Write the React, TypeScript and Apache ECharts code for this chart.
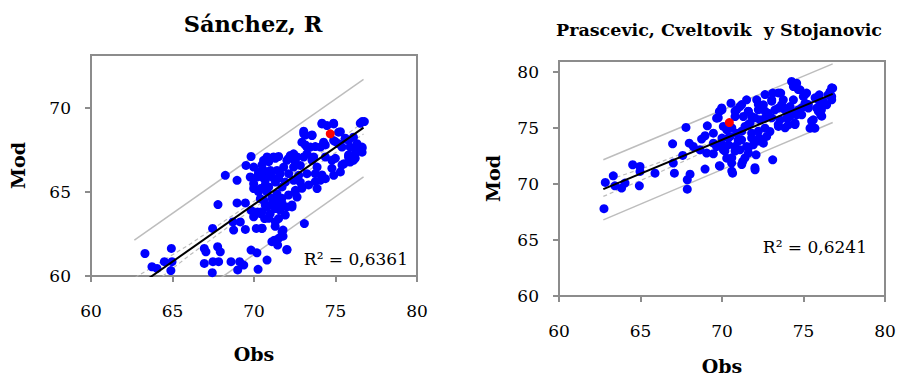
import React, { useEffect, useRef } from "react";
import * as echarts from "echarts";

// ---- Left chart: Sánchez, R ----
const leftObs = [
  63.31, 63.74, 64.05, 64.5, 64.93, 64.97, 64.9, 66.95, 67.05, 66.95, 67.44, 67.46, 67.77, 67.93, 67.48, 67.83,
  67.79, 68.24, 68.59, 68.75, 68.71, 68.96, 68.96, 69.0, 69.12, 69.16, 69.37, 69.47, 69.47, 69.51, 69.82, 69.82,
  69.82, 70.18, 70.25, 70.14, 70.22, 70.49, 70.8, 70.65, 71.25, 71.45, 71.3, 71.51, 71.78, 71.72, 72.02, 73.09,
  71.78, 69.77, 69.98, 70.28, 69.98, 70.59, 70.39, 70.69, 71.0, 71.2, 71.31, 70.9, 70.59, 70.39, 70.8, 71.1,
  71.41, 71.72, 72.02, 72.33, 71.61, 70.99, 71.41, 71.72, 71.92, 72.13, 72.02, 72.23, 72.64, 72.43, 72.74, 72.84,
  72.94, 72.54, 72.64, 72.84, 73.05, 73.25, 73.05, 73.05, 73.56, 73.46, 73.66, 73.87, 73.76, 73.87, 74.07, 74.38,
  74.27, 74.17, 74.48, 74.89, 75.19, 74.89, 75.19, 75.4, 74.78, 74.89, 74.38, 74.07, 75.3, 75.52, 75.8, 75.9,
  75.6, 76.1, 76.32, 76.2, 75.9, 76.63, 76.63, 76.52, 76.77, 76.1, 75.8, 70.8, 70.59, 70.18, 69.98, 70.49,
  71.41, 71.61, 71.82, 71.1, 70.8, 71.31, 70.39, 69.98, 71.51, 72.43, 72.94, 73.25, 73.56, 73.25, 72.43,
  73.15, 73.56, 74.17, 74.88, 75.3, 76.63, 73.15, 73.76, 74.37, 74.99, 75.6, 76.21, 76.63, 76.21, 75.8, 74.99,
  75.4, 74.78, 74.17, 73.76, 73.35, 72.94, 72.53, 72.12, 71.72, 71.31, 72.53, 72.12, 71.31, 70.9, 70.49, 70.28,
  70.9, 71.51, 70.69, 70.28, 71.1, 70.69, 72.33, 71.92, 70.49, 70.9, 70.49, 71.31, 71.72, 71.1, 72.02, 71.51,
];
const leftMod = [
  61.34, 60.55, 60.45, 60.85, 61.64, 60.85, 60.32, 61.64, 61.44, 60.75, 60.2, 62.83, 61.74, 61.44, 60.85, 60.85,
  64.25, 65.99, 60.85, 62.73, 63.22, 64.35, 65.69, 60.36, 60.85, 63.22, 60.65, 64.35, 62.77, 66.58, 67.11, 63.91,
  61.54, 61.38, 60.4, 62.83, 63.81, 62.83, 60.95, 63.42, 62.13, 61.84, 62.96, 63.42, 62.73, 62.43, 61.58, 63.12,
  62.37, 65.89, 65.49, 66.09, 66.48, 66.88, 65.2, 65.69, 66.28, 67.08, 65.59, 65.3, 64.5, 64.6, 64.1, 64.3,
  64.5, 64.31, 64.11, 64.11, 63.91, 63.71, 64.9, 65.3, 65.59, 66.09, 66.88, 67.17, 67.08, 66.48, 65.99, 65.59,
  65.3, 65.1, 64.7, 66.58, 67.08, 67.67, 68.46, 68.62, 68.36, 67.67, 67.08, 66.48, 66.09, 65.2, 67.67, 67.08,
  67.96, 69.05, 68.95, 69.05, 68.56, 68.06, 67.87, 67.67, 66.88, 65.99, 65.79, 65.69, 66.19, 66.68, 67.08, 67.67,
  68.16, 68.26, 67.87, 67.27, 66.78, 67.67, 67.37, 69.09, 69.19, 66.88, 68.06, 67.08, 66.28, 65.89, 65.2, 65.89,
  66.28, 66.09, 66.48, 65.89, 65.0, 64.01, 63.71, 63.52, 67.11, 67.27, 67.96, 67.27, 66.88, 66.09, 65.69,
  68.39, 68.39, 69.09, 69.09, 68.59, 69.19, 67.8, 67.7, 67.8, 67.99, 68.2, 67.6, 67.6, 67.0, 67.2, 67.0,
  66.61, 66.41, 66.01, 65.61, 65.42, 65.22, 65.02, 64.82, 64.62, 64.23, 66.8, 67.0, 67.0, 66.8, 66.61, 66.21,
  66.01, 65.82, 65.42, 65.02, 64.62, 64.23, 64.23, 63.63, 63.83, 63.43, 62.84, 63.23, 62.64, 62.04, 61.55, 62.24,
];
const leftHighlight = [[74.68, 68.46]];
const leftFit = [[62.7, 59.29], [76.72, 68.83]];
const leftUpperPred = [[62.66, 62.14], [76.72, 71.7]];
const leftLowerPred = [[62.66, 56.24], [76.72, 65.9]];
const leftUpperConf = [[62.7, 59.9], [66, 61.85], [70, 64.45], [73, 66.55], [76.72, 69.15]];
const leftLowerConf = [[62.7, 58.7], [66, 61.2], [70, 64.05], [73, 66.05], [76.72, 68.45]];

// ---- Right chart: Prascevic, Cveltovik y Stojanovic ----
const rightObs = [
  62.76, 62.84, 63.33, 63.43, 63.84, 64.05, 64.52, 64.97, 64.97, 64.93, 65.89, 66.97, 67.01, 67.08, 67.59, 67.79,
  67.87, 67.87, 67.99, 68.04, 68.24, 68.65, 68.75, 68.96, 69.06, 68.96, 69.1, 69.47, 69.47, 69.84, 69.84, 69.67,
  70.0, 70.08, 70.29, 70.39, 70.59, 70.65, 70.55, 70.8, 70.9, 71.0, 71.1, 71.27, 71.51, 71.62, 71.72, 71.82,
  71.92, 72.09, 72.03, 72.13, 72.23, 72.33, 72.29, 72.64, 72.84, 73.05, 73.11, 73.11, 73.25, 73.46, 73.56, 73.6,
  73.76, 73.86, 73.97, 74.07, 74.27, 74.38, 74.58, 74.38, 74.48, 74.68, 74.79, 74.89, 74.99, 75.09, 75.19, 75.3,
  75.4, 75.6, 75.7, 75.81, 75.97, 76.05, 76.22, 76.42, 76.63, 76.73, 76.79, 76.73, 75.9, 76.1, 70.29, 70.49,
  70.8, 71.2, 71.41, 71.51, 71.62, 71.82, 71.31, 71.1, 70.9, 70.0, 69.67, 69.47, 70.08, 72.54, 72.74, 72.94,
  72.54, 72.64, 73.46, 74.17, 74.58, 74.17,
  74.37, 74.68, 75.09, 75.71, 76.12, 76.52, 76.73, 75.91, 76.12, 75.5, 75.6, 74.48, 73.87, 73.45, 73.05, 72.64,
  72.23, 73.05, 73.66, 74.27, 74.89, 75.3, 72.64, 73.45, 72.02, 71.61, 71.21, 70.8, 69.98, 69.77, 70.6, 71.21,
  71.61, 72.23, 71.82, 71.0, 70.39, 69.98, 70.8, 71.61, 72.23, 71.41, 70.6, 70.18, 72.02, 71.21, 70.6, 69.88,
];
const rightMod = [
  67.8, 70.15, 70.74, 69.85, 69.64, 70.09, 71.73, 71.58, 71.13, 69.85, 70.98, 73.6, 71.88, 70.98, 72.56, 75.06,
  70.39, 69.55, 73.66, 70.89, 73.36, 73.07, 74.02, 74.32, 72.77, 71.34, 75.21, 74.55, 72.71, 71.64, 76.49, 75.89,
  76.64, 75.15, 72.32, 73.51, 71.88, 70.98, 77.23, 76.04, 74.55, 73.96, 73.07, 72.02, 77.53, 76.49, 75.45, 74.55,
  73.51, 72.62, 71.28, 77.53, 76.64, 75.74, 74.11, 75.0, 76.34, 77.53, 78.13, 72.17, 76.64, 75.15, 75.74, 78.13,
  77.53, 76.64, 75.89, 75.3, 79.17, 78.72, 79.02, 77.53, 75.45, 76.64, 78.42, 76.19, 77.83, 77.23, 78.13, 76.79,
  75.0, 75.74, 75.0, 76.79, 77.98, 76.19, 77.38, 77.08, 78.27, 77.53, 78.57, 77.83, 77.53, 76.64, 74.85, 74.26,
  73.36, 73.96, 75.15, 73.36, 72.77, 76.04, 76.04, 76.93, 76.64, 74.11, 73.36, 73.66, 73.07, 73.66, 74.26, 74.7,
  77.08, 75.89, 76.79, 76.93, 76.19, 76.04,
  79.04, 78.45, 78.0, 77.71, 77.11, 78.0, 78.6, 76.52, 76.07, 75.63, 75.03, 75.32, 75.03, 75.32, 75.92, 76.52,
  77.11, 77.41, 77.11, 76.52, 76.81, 77.11, 78.0, 78.15, 75.92, 76.52, 77.11, 76.52, 76.81, 75.92, 75.03, 74.73,
  75.32, 74.73, 74.13, 73.84, 74.13, 73.54, 72.95, 73.24, 73.84, 72.35, 72.35, 72.95, 71.46, 71.75, 71.16, 71.61,
];
const rightHighlight = [[70.45, 75.5]];
const rightFit = [[62.72, 69.55], [76.79, 78.06]];
const rightUpperPred = [[62.72, 72.17], [76.79, 80.74]];
const rightLowerPred = [[62.72, 66.8], [76.79, 75.5]];
const rightUpperConf = [[62.72, 70.2], [66, 71.85], [70, 74.1], [73, 76.0], [76.79, 78.45]];
const rightLowerConf = [[62.72, 68.9], [66, 70.95], [70, 73.6], [73, 75.55], [76.79, 77.65]];

const titles = ["Sánchez, R", "Prascevic, Cveltovik  y Stojanovic"];
const r2Labels = ["R² = 0,6361", "R² = 0,6241"];
const xTicks = [60, 65, 70, 75, 80];
const leftYTicks = [60, 65, 70];
const rightYTicks = [60, 65, 70, 75, 80];

const FONT = "DejaVu Serif";
const AXIS_GRAY = "#8c8c8c";
const BAND_GRAY = "#bdbdbd";

function pairs(xs: number[], ys: number[]) {
  return xs.map((x, i) => [x, ys[i]]);
}

export default function App() {
  const ref = useRef<HTMLDivElement>(null);
  useEffect(() => {
    if (!ref.current) return;
    const chart = echarts.init(ref.current, undefined, { renderer: "svg" });

    const xAxisCfg = (gridIndex: number, nameGap: number) => ({
      type: "value",
      gridIndex,
      min: 60,
      max: 80,
      interval: 5,
      name: "Obs",
      nameLocation: "middle",
      nameGap,
      nameTextStyle: { fontFamily: FONT, fontWeight: "bold", fontSize: 19, color: "#000" },
      axisLine: { show: true, onZero: false, lineStyle: { color: AXIS_GRAY, width: 2 } },
      axisTick: { show: true, length: 6, lineStyle: { color: AXIS_GRAY, width: 2 }, customValues: xTicks },
      axisLabel: { fontFamily: FONT, fontSize: 17, color: "#000", margin: 26, customValues: xTicks },
      splitLine: { show: false },
    });
    const yAxisCfg = (gridIndex: number, max: number, ticks: number[], nameGap: number) => ({
      type: "value",
      gridIndex,
      min: 60,
      max,
      interval: 5,
      name: "Mod",
      nameLocation: "middle",
      nameGap,
      nameRotate: 90,
      nameTextStyle: { fontFamily: FONT, fontWeight: "bold", fontSize: 19, color: "#000" },
      axisLine: { show: true, onZero: false, lineStyle: { color: AXIS_GRAY, width: 2 } },
      axisTick: { show: true, length: 6, lineStyle: { color: AXIS_GRAY, width: 2 }, customValues: ticks },
      axisLabel: { fontFamily: FONT, fontSize: 17, color: "#000", margin: 20, customValues: ticks },
      splitLine: { show: false },
    });

    const bandLine = (idx: number, data: number[][], dashed: boolean) => ({
      type: "line",
      xAxisIndex: idx,
      yAxisIndex: idx,
      data,
      symbol: "none",
      clip: true,
      z: 1,
      lineStyle: { color: BAND_GRAY, width: dashed ? 1.2 : 1.5, type: dashed ? [4, 3] : "solid" },
    });
    const fitLine = (idx: number, data: number[][]) => ({
      type: "line",
      xAxisIndex: idx,
      yAxisIndex: idx,
      data,
      symbol: "none",
      clip: true,
      z: 5,
      lineStyle: { color: "#000", width: 2 },
    });
    const scatter = (idx: number, data: number[][], color: string, z: number) => ({
      type: "scatter",
      xAxisIndex: idx,
      yAxisIndex: idx,
      data,
      symbolSize: 9,
      z,
      itemStyle: { color, opacity: 1 },
    });

    chart.setOption({
      animation: false,
      backgroundColor: "#fff",
      grid: [
        { left: 91, right: 480, top: 55, bottom: 101, containLabel: false, outerBoundsMode: "none", show: true, borderColor: AXIS_GRAY, borderWidth: 2, backgroundColor: "#fff" },
        { left: 559, right: 12, top: 61, bottom: 81, containLabel: false, outerBoundsMode: "none", show: true, borderColor: AXIS_GRAY, borderWidth: 2, backgroundColor: "#fff" },
      ],
      xAxis: [xAxisCfg(0, 68), xAxisCfg(1, 60)],
      yAxis: [yAxisCfg(0, 73.15, leftYTicks, 64), yAxisCfg(1, 81, rightYTicks, 57)],
      graphic: [
        { type: "text", x: 253, y: 24, style: { text: titles[0], fontFamily: FONT, fontWeight: "bold", fontSize: 22.5, fill: "#000", textAlign: "center", textVerticalAlign: "middle" } },
        { type: "text", x: 719, y: 30, style: { text: titles[1], fontFamily: FONT, fontWeight: "bold", fontSize: 17.5, fill: "#000", textAlign: "center", textVerticalAlign: "middle" } },
        { type: "text", x: 408, y: 259, z: 10, style: { text: r2Labels[0], fontFamily: FONT, fontSize: 17, fill: "#000", textAlign: "right", textVerticalAlign: "middle" } },
        { type: "text", x: 867, y: 247, z: 10, style: { text: r2Labels[1], fontFamily: FONT, fontSize: 17, fill: "#000", textAlign: "right", textVerticalAlign: "middle" } },
      ],
      series: [
        bandLine(0, leftUpperPred, false),
        bandLine(0, leftLowerPred, false),
        bandLine(0, leftUpperConf, true),
        bandLine(0, leftLowerConf, true),
        scatter(0, pairs(leftObs, leftMod), "#0000ff", 3),
        fitLine(0, leftFit),
        scatter(0, leftHighlight, "#ff0000", 6),
        bandLine(1, rightUpperPred, false),
        bandLine(1, rightLowerPred, false),
        bandLine(1, rightUpperConf, true),
        bandLine(1, rightLowerConf, true),
        scatter(1, pairs(rightObs, rightMod), "#0000ff", 3),
        fitLine(1, rightFit),
        scatter(1, rightHighlight, "#ff0000", 6),
      ],
    });
    return () => chart.dispose();
  }, []);
  return (
    <div
      ref={ref}
      style={{ position: "fixed", left: 0, top: 0, width: 897, height: 377, background: "#fff" }}
    />
  );
}
